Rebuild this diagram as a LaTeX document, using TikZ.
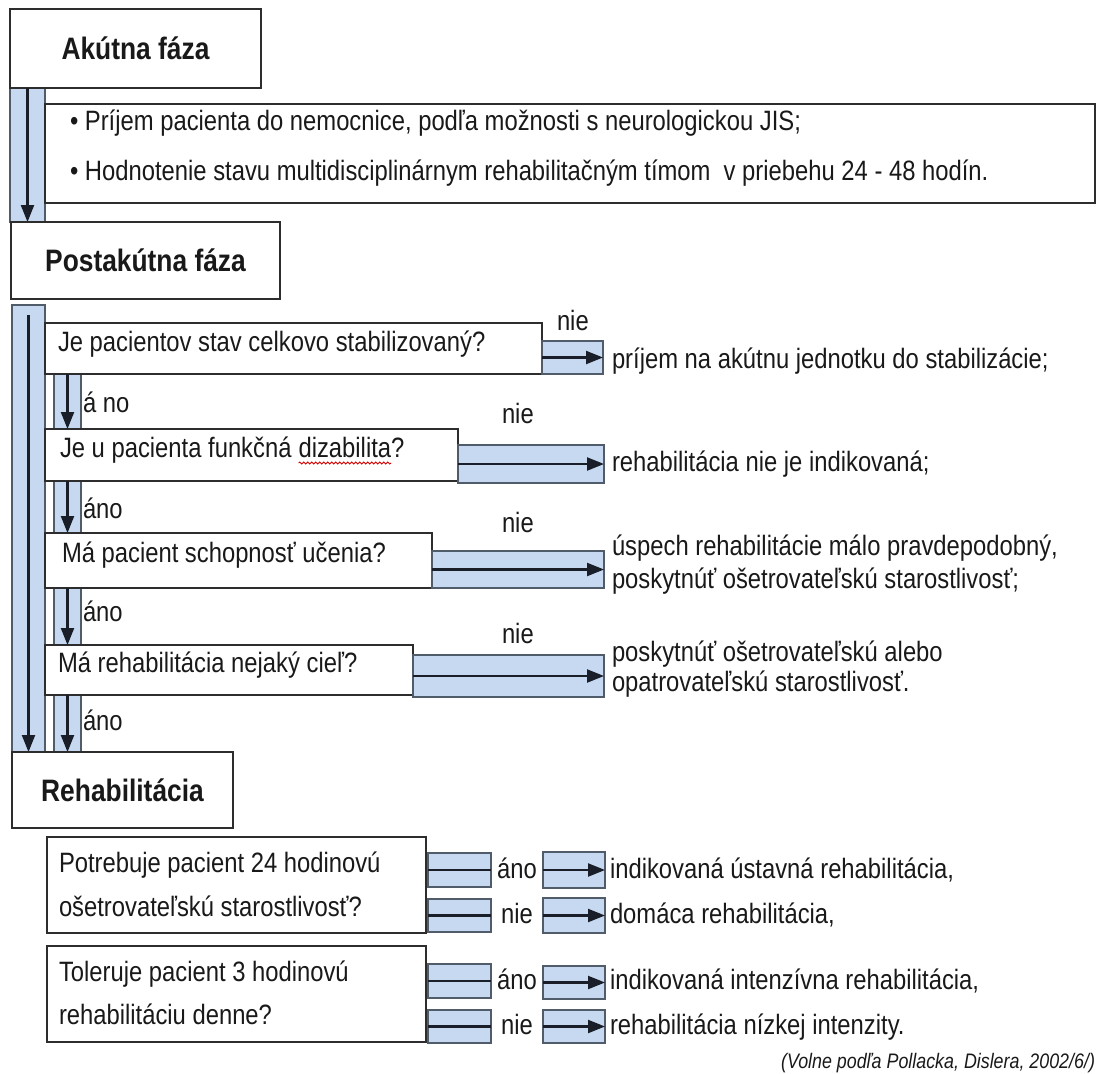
\documentclass[tikz,border=0pt]{standalone}
\usepackage{fontspec}
\setmainfont{Liberation Sans}[FakeStretch=0.85]
\usetikzlibrary{arrows.meta,decorations.pathmorphing}

\definecolor{bandblue}{RGB}{198,217,241}
\definecolor{banddraw}{RGB}{80,92,106}
\definecolor{boxdraw}{RGB}{45,45,45}
\definecolor{arrowdraw}{RGB}{25,30,40}

\begin{document}
	\begin{tikzpicture}[
		x=1pt,
		y=-1pt,
		every node/.style={
			inner sep=0pt,
			outer sep=0pt,
			text=black!90,
			font=\fontsize{28}{30}\selectfont,
		},
		phase/.style={
			draw=boxdraw,
			line width=1.8pt,
			fill=white,
			anchor=north west,
			font=\fontsize{31}{36}\selectfont\bfseries,
		},
		question/.style={
			draw=boxdraw,
			line width=1.8pt,
			fill=white,
			anchor=north west,
		},
		band/.style={
			draw=banddraw,
			line width=1.6pt,
			fill=bandblue,
			anchor=north west,
		},
		flow/.style={
			draw=arrowdraw,
			line width=2.2pt,
			-{Triangle[length=17pt,width=13pt]},
		},
		plain/.style={
			draw=arrowdraw,
			line width=2.2pt,
		},
		txt/.style={
			anchor=base west,
		},
		answer/.style={
			anchor=base,
		},
		spell/.style={
			draw=red!85!black,
			line width=0.8pt,
			decorate,
			decoration={snake, amplitude=1pt, segment length=4pt},
		},
	]
		\useasboundingbox (0,0) rectangle (1101,1074);

		\node[band, minimum width=35pt, minimum height=134pt] (akband) at (10,88) {};
		\node[phase, minimum width=251pt, minimum height=79pt] (akuta) at (10,9) {Akútna fáza};
		\node[question, minimum width=1050pt, minimum height=99pt] (akbox) at (45,104) {};
		\node[txt] (akline1) at (70,130) {• Príjem pacienta do nemocnice, podľa možnosti s neurologickou JIS;};
		\node[txt] (akline2) at (70,180) {• Hodnotenie stavu multidisciplinárnym rehabilitačným tímom \ v priebehu 24 - 48 hodín.};
		\draw[flow] (akband.north) -- (akband.south);

		\node[band, minimum width=33pt, minimum height=447pt] (postband) at (12,305) {};
		\node[phase, minimum width=269pt, minimum height=77pt] (postakuta) at (11,222) {Postakútna fáza};
		\draw[flow] ([yshift=-10pt]postband.north) -- (postband.south);

		\node[band, minimum width=27pt, minimum height=55pt] (yes1) at (54,374) {};
		\node[band, minimum width=27pt, minimum height=52pt] (yes2) at (54,481) {};
		\node[band, minimum width=27pt, minimum height=57pt] (yes3) at (54,588) {};
		\node[band, minimum width=27pt, minimum height=57pt] (yes4) at (54,695) {};

		\node[question, minimum width=497pt, minimum height=51pt] (q1) at (45,323) {};
		\node[txt] (q1t) at (58,351) {Je pacientov stav celkovo stabilizovaný?};
		\node[band, minimum width=61pt, minimum height=33pt] (q1no) at (542,341) {};
		\node[txt] (q1nie) at (557,330) {nie};
		\node[txt] (q1out) at (612,368) {príjem na akútnu jednotku do stabilizácie;};

		\node[question, minimum width=413pt, minimum height=52pt] (q2) at (45,429) {};
		\node[txt] (q2t) at (60,457) {Je u pacienta funkčná};
		\node[txt] (q2w) at ([xshift=7pt]q2t.base east) {dizabilita\rlap{?}};
		\node[band, minimum width=146pt, minimum height=38pt] (q2no) at (458,445) {};
		\node[txt] (q2nie) at (502,423) {nie};
		\node[txt] (q2out) at (612,471) {rehabilitácia nie je indikovaná;};

		\node[question, minimum width=387pt, minimum height=55pt] (q3) at (45,533) {};
		\node[txt] (q3t) at (62,562) {Má pacient schopnosť učenia?};
		\node[band, minimum width=172pt, minimum height=37pt] (q3no) at (432,551) {};
		\node[txt] (q3nie) at (502,532) {nie};
		\node[txt] (q3outa) at (612,555) {úspech rehabilitácie málo pravdepodobný,};
		\node[txt] (q3outb) at (612,588) {poskytnúť ošetrovateľskú starostlivosť;};

		\node[question, minimum width=368pt, minimum height=50pt] (q4) at (45,645) {};
		\node[txt] (q4t) at (58,672) {Má rehabilitácia nejaký cieľ?};
		\node[band, minimum width=191pt, minimum height=42pt] (q4no) at (413,655) {};
		\node[txt] (q4nie) at (502,643) {nie};
		\node[txt] (q4outa) at (612,661) {poskytnúť ošetrovateľskú alebo};
		\node[txt] (q4outb) at (612,691) {opatrovateľskú starostlivosť.};

		\node[txt] (ano1) at (83,412) {á no};
		\node[txt] (ano2) at (83,518) {áno};
		\node[txt] (ano3) at (83,621) {áno};
		\node[txt] (ano4) at (83,730) {áno};

		\draw[flow] (yes1.north) -- (yes1.south);
		\draw[flow] (yes2.north) -- (yes2.south);
		\draw[flow] (yes3.north) -- (yes3.south);
		\draw[flow] (yes4.north) -- (yes4.south);
		\draw[flow] (q1no.west) -- (q1no.east);
		\draw[flow] (q2no.west) -- (q2no.east);
		\draw[flow] (q3no.west) -- (q3no.east);
		\draw[flow] (q4no.west) -- (q4no.east);
		\draw[spell] ([yshift=-6pt]q2w.base west) -- ([yshift=-6pt]q2w.base east);

		\node[phase, minimum width=221pt, minimum height=76pt] (rehab) at (12,752) {Rehabilitácia};

		\node[question, minimum width=379pt, minimum height=96pt] (q5) at (47,837) {};
		\node[txt] (q5a) at (59,872) {Potrebuje pacient 24 hodinovú};
		\node[txt] (q5b) at (59,916) {ošetrovateľskú starostlivosť?};
		\node[question, minimum width=379pt, minimum height=96pt] (q6) at (47,946) {};
		\node[txt] (q6a) at (59,981) {Toleruje pacient 3 hodinovú};
		\node[txt] (q6b) at (59,1024) {rehabilitáciu denne?};

		\node[band, minimum width=63pt, minimum height=34pt] (r1a) at (428,853) {};
		\node[band, minimum width=62pt, minimum height=36pt] (r1b) at (543,852) {};
		\node[answer] (r1l) at (517,878) {áno};
		\node[txt] (r1t) at (610,878) {indikovaná ústavná rehabilitácia,};
		\node[band, minimum width=63pt, minimum height=33pt] (r2a) at (428,899) {};
		\node[band, minimum width=62pt, minimum height=35pt] (r2b) at (543,898) {};
		\node[answer] (r2l) at (517,923) {nie};
		\node[txt] (r2t) at (610,923) {domáca rehabilitácia,};
		\node[band, minimum width=63pt, minimum height=34pt] (r3a) at (428,964) {};
		\node[band, minimum width=62pt, minimum height=33pt] (r3b) at (543,966) {};
		\node[answer] (r3l) at (517,989) {áno};
		\node[txt] (r3t) at (610,989) {indikovaná intenzívna rehabilitácia,};
		\node[band, minimum width=63pt, minimum height=33pt] (r4a) at (428,1010) {};
		\node[band, minimum width=62pt, minimum height=33pt] (r4b) at (543,1010) {};
		\node[answer] (r4l) at (517,1034) {nie};
		\node[txt] (r4t) at (610,1034) {rehabilitácia nízkej intenzity.};

		\draw[plain] (r1a.west) -- (r1a.east);
		\draw[flow] (r1b.west) -- (r1b.east);
		\draw[plain] (r2a.west) -- (r2a.east);
		\draw[flow] (r2b.west) -- (r2b.east);
		\draw[plain] (r3a.west) -- (r3a.east);
		\draw[flow] (r3b.west) -- (r3b.east);
		\draw[plain] (r4a.west) -- (r4a.east);
		\draw[flow] (r4b.west) -- (r4b.east);

		\node[anchor=base east, font=\fontsize{21}{24}\selectfont\itshape] (source) at (1095,1068) {(Volne podľa Pollacka, Dislera, 2002/6/)};
	\end{tikzpicture}
\end{document}
